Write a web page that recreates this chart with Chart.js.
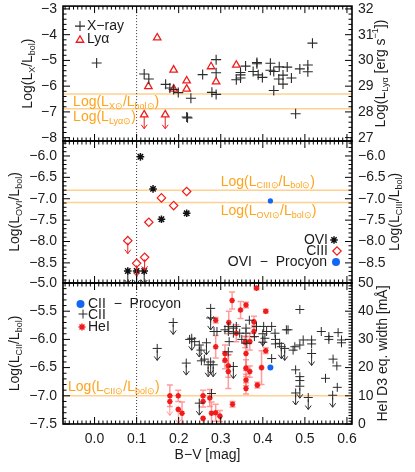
<!DOCTYPE html>
<html>
<head>
<meta charset="utf-8">
<script src="https://cdn.jsdelivr.net/npm/chart.js@4"></script>
<style>
html,body{margin:0;padding:0;background:#fff;}
#wrap{position:relative;width:415px;height:472px;overflow:hidden;}
.p{position:absolute;left:0;width:415px;}
</style>
</head>
<body>
<div id="wrap">
<div class="p" style="top:0px;height:150px"><canvas id="c1"></canvas></div>
<div class="p" style="top:132px;height:160px"><canvas id="c2"></canvas></div>
<div class="p" style="top:274px;height:198px"><canvas id="c3"></canvas></div>
</div>
<script>
// ---- top panel: X-ray (left axis) and Ly alpha (right axis)
var xrayBV = [0.005,0.118,0.129,0.169,0.179,0.188,0.199,0.229,0.219,0.221,0.257,0.279,0.289,0.289,0.289,0.337,0.347,0.347,0.347,0.359,0.377,0.386,0.386,0.389,0.399,0.418,0.418,0.426,0.426,0.439,0.438,0.448,0.448,0.458,0.468,0.478,0.488,0.507,0.507,0.518];
var xrayL  = [-5.10,-5.53,-5.72,-5.93,-6.07,-6.13,-6.25,-6.47,-7.20,-7.23,-5.55,-6.24,-6.32,-4.97,-5.48,-5.75,-5.68,-5.47,-5.56,-5.22,-5.43,-5.08,-5.13,-5.56,-5.66,-5.11,-5.38,-5.43,-6.17,-5.25,-5.72,-5.57,-5.92,-5.26,-5.68,-7.07,-5.33,-5.18,-5.44,-4.33];
var lyaBV = [0.149,0.128,0.188,0.188,0.219,0.219,0.277,0.289,0.337];
var lyaL  = [30.88,28.99,29.63,28.89,29.21,28.89,29.76,29.17,29.82];
var lyaLimBV = [0.118,0.168];
var lyaLimL  = [27.89,27.89];
var xSun = -6.30, lyaSun = 28.12;

// ---- middle panel: OVI (left) and CIII (right)
var oviBV = [0.109,0.139,0.159,0.219];
var oviL  = [-6.02,-6.77,-7.48,-7.34];
var oviLimBV = [0.079,0.100,0.118];
var oviLimL  = [-8.69,-8.69,-8.69];
var ciiiBV = [0.159,0.188,0.219,0.129];
var ciiiL  = [-6.98,-7.16,-6.83,-7.55];
var ciiiLimBV = [0.079,0.100,0.119];
var ciiiLimL  = [-7.98,-8.51,-8.37];
var procOviBV = [0.418], procOviL = [-7.05];
var ciiiSun = -6.80, oviSun = -7.09;

// ---- bottom panel: CII (left) and HeI D3 width (right, mA)
var ciiBV = [0.226,0.238,0.253,0.254,0.261,0.278,0.284,0.291,0.310,0.318,0.318,0.320,0.318,0.330,0.330,0.337,0.345,0.350,0.360,0.360,0.362,0.368,0.385,0.380,0.400,0.402,0.405,0.409,0.421,0.429,0.430,0.430,0.440,0.456,0.460,0.472,0.476,0.488,0.488,0.496,0.516,0.516,0.539,0.557,0.557,0.579,0.587,0.587,0.421,0.478,0.488,0.488,0.567,0.576,0.549,0.577];
var ciiL  = [-6.00,-6.04,-6.19,-6.38,-6.35,-6.96,-5.86,-5.86,-5.83,-5.77,-5.86,-6.04,-6.22,-5.80,-5.89,-5.77,-5.89,-6.00,-5.80,-5.89,-6.07,-5.66,-5.77,-5.95,-6.05,-5.77,-5.98,-5.86,-5.77,-5.89,-6.00,-6.08,-6.07,-5.83,-5.83,-6.19,-6.13,-6.10,-5.47,-6.01,-6.01,-6.08,-5.86,-5.95,-6.00,-5.88,-6.06,-6.01,-6.34,-6.54,-6.66,-6.73,-6.35,-6.47,-6.69,-6.85];
var ciiLimBV = [0.149,0.187,0.218,0.231,0.249,0.266,0.270,0.276,0.282,0.276,0.276,0.330,0.249,0.400,0.444,0.452,0.516,0.488,0.478,0.508,0.566];
var ciiLimL  = [-6.16,-5.70,-6.42,-5.98,-6.10,-6.06,-6.45,-6.40,-6.45,-5.45,-5.62,-6.48,-7.13,-5.90,-6.13,-6.16,-6.25,-6.83,-6.95,-7.03,-6.99];
var heBV  = [0.327,0.385,0.360,0.347,0.407,0.288,0.319,0.379,0.337,0.379,0.369,0.358,0.288,0.310,0.360,0.310,0.318,0.318,0.360,0.369,0.360,0.360,0.387,0.407,0.397,0.179,0.199,0.208,0.258,0.258,0.274,0.278,0.288,0.298,0.328];
var heW   = [43.8,48.2,42.2,40.4,40.0,36.8,36.0,36.2,32.2,32.8,29.2,29.0,27.4,25.0,25.0,22.6,20.6,18.6,19.8,18.6,15.6,12.6,13.8,26.0,20.0,10.0,10.0,3.8,10.0,8.0,9.2,3.8,4.0,2.8,7.0];
var heErr = [3,0.6,1,3,0.6,1,4,2,3,2,3,2,4,3,6,3,4,6,3,2,2,2,1,1,6,3.8,2,4,2,2,3,4,3,2,1];
var heLimBV = [0.179,0.199,0.258];
var heLimW  = [8.0,5.2,2.0];
var procCiiBV = [0.418], procCiiL = [-6.50];
var ciiSun = -7.0;

var FONT = "'Liberation Sans', Arial, Helvetica, sans-serif";
var RED = '#f01c1c', BLUE = '#1466f5', SUN = '#ffa31a', SUNLINE = '#ffd08f', INK = '#1c1c1c';
var ERR = 'rgba(255,90,90,0.6)';

function pts(xs, ys){ return xs.map(function(x, i){ return {x: x, y: ys[i]}; }); }
function fmt(d){ return function(v){ return Number(v).toFixed(d).replace('-', '\u2212'); }; }

function parseRich(s){
  var out = [], re = /([_^])\{([^}]*)\}/g, last = 0, m;
  while ((m = re.exec(s))) {
    if (m.index > last) out.push([s.slice(last, m.index), 0]);
    out.push([m[2], m[1] === '_' ? 1 : 2]);
    last = re.lastIndex;
  }
  if (last < s.length) out.push([s.slice(last), 0]);
  return out;
}

function rich(ctx, s, x, y, o){
  o = o || {};
  var size = o.size || 14, small = Math.round(size * 0.64), segs = parseRich(s), w = 0;
  ctx.save();
  ctx.translate(x, y);
  if (o.rot) ctx.rotate(o.rot);
  ctx.fillStyle = o.color || INK;
  ctx.textBaseline = 'middle';
  ctx.textAlign = 'left';
  segs.forEach(function(g){ ctx.font = (g[1] ? small : size) + 'px ' + FONT; w += ctx.measureText(g[0]).width; });
  var cx = o.align === 'center' ? -w / 2 : (o.align === 'right' ? -w : 0);
  segs.forEach(function(g){
    ctx.font = (g[1] ? small : size) + 'px ' + FONT;
    var dy = g[1] === 1 ? size * 0.3 : (g[1] === 2 ? -size * 0.36 : 0);
    ctx.fillText(g[0], cx, dy);
    cx += ctx.measureText(g[0]).width;
  });
  ctx.restore();
}

function marker(ctx, style, x, y, r, stroke, fill, lw){
  ctx.save();
  ctx.strokeStyle = stroke; ctx.fillStyle = fill; ctx.lineWidth = lw;
  Chart.helpers.drawPoint(ctx, {pointStyle: style, radius: r, borderWidth: lw, rotation: 0}, x, y);
  ctx.restore();
}

function arrow(ctx, x, y, len, color){
  ctx.save();
  ctx.strokeStyle = color; ctx.lineWidth = 1;
  ctx.beginPath();
  ctx.moveTo(x, y); ctx.lineTo(x, y + len);
  ctx.moveTo(x - 3, y + len - 4); ctx.lineTo(x, y + len); ctx.lineTo(x + 3, y + len - 4);
  ctx.stroke();
  ctx.restore();
}

function axisTicks(ctx, scale, a, major, minor, side){
  var k0 = Math.ceil(scale.min / minor - 1e-6), k1 = Math.floor(scale.max / minor + 1e-6);
  ctx.beginPath();
  for (var k = k0; k <= k1; k++) {
    var v = k * minor, q = v / major, len = Math.abs(q - Math.round(q)) < 1e-6 ? 7 : 3.5;
    var p = scale.getPixelForValue(v);
    if (side === 'x') {
      ctx.moveTo(p, a.top); ctx.lineTo(p, a.top + len);
      ctx.moveTo(p, a.bottom); ctx.lineTo(p, a.bottom - len);
    } else if (side === 'left') {
      ctx.moveTo(a.left, p); ctx.lineTo(a.left + len, p);
    } else {
      ctx.moveTo(a.right, p); ctx.lineTo(a.right - len, p);
    }
  }
  ctx.stroke();
}

function decor(cfg){
  return {
    id: 'decor',
    beforeDatasetsDraw: function(chart){
      var ctx = chart.ctx, a = chart.chartArea, sx = chart.scales.x;
      ctx.save();
      ctx.beginPath(); ctx.rect(a.left, a.top, a.right - a.left, a.bottom - a.top); ctx.clip();
      // solar reference lines
      ctx.strokeStyle = SUNLINE; ctx.lineWidth = 1.5;
      cfg.refs.forEach(function(r){
        var py = chart.scales[r.axis].getPixelForValue(r.v);
        ctx.beginPath(); ctx.moveTo(a.left, py); ctx.lineTo(a.right, py); ctx.stroke();
      });
      // dotted line at B-V = 0.1
      var px = sx.getPixelForValue(0.1);
      ctx.setLineDash([1, 2]); ctx.strokeStyle = '#333'; ctx.lineWidth = 1;
      ctx.beginPath(); ctx.moveTo(px, a.top); ctx.lineTo(px, a.bottom); ctx.stroke();
      ctx.setLineDash([]);
      // error bars
      chart.data.datasets.forEach(function(ds, i){
        if (!ds.errs) return;
        var ys = chart.scales[ds.yAxisID], meta = chart.getDatasetMeta(i);
        ctx.strokeStyle = ERR; ctx.lineWidth = 1.5;
        meta.data.forEach(function(p, j){
          var v = ds.data[j].y, e = ds.errs[j];
          var t = ys.getPixelForValue(v + e), b = ys.getPixelForValue(v - e);
          ctx.beginPath();
          ctx.moveTo(p.x, t); ctx.lineTo(p.x, b);
          ctx.moveTo(p.x - 3, t); ctx.lineTo(p.x + 3, t);
          ctx.moveTo(p.x - 3, b); ctx.lineTo(p.x + 3, b);
          ctx.stroke();
        });
      });
      ctx.restore();
    },
    afterDatasetsDraw: function(chart){
      var ctx = chart.ctx, a = chart.chartArea, sc = chart.scales;
      ctx.save();
      ctx.beginPath(); ctx.rect(a.left, a.top, a.right - a.left, a.bottom - a.top); ctx.clip();
      chart.data.datasets.forEach(function(ds, i){
        if (!ds.arrow) return;
        chart.getDatasetMeta(i).data.forEach(function(p){ arrow(ctx, p.x, p.y + 2, ds.arrow, ds.arrowColor); });
      });
      // solar labels
      cfg.refs.forEach(function(r){
        var py = sc[r.axis].getPixelForValue(r.v);
        rich(ctx, r.label, sc.x.getPixelForValue(r.bv), py + r.dy, {color: SUN, size: 14});
      });
      ctx.restore();
      // frame and inward ticks
      ctx.save();
      ctx.strokeStyle = '#000'; ctx.lineWidth = 1;
      axisTicks(ctx, sc.x, a, 0.1, 0.01, 'x');
      axisTicks(ctx, sc.y, a, cfg.yt[0], cfg.yt[1], 'left');
      axisTicks(ctx, sc.y2, a, cfg.y2t[0], cfg.y2t[1], 'right');
      ctx.lineWidth = 1.6;
      ctx.strokeRect(a.left, a.top, a.right - a.left, a.bottom - a.top);
      ctx.restore();
      // axis titles
      var cy = (a.top + a.bottom) / 2;
      rich(ctx, cfg.leftTitle[0], cfg.leftTitle[1], cy, {rot: -Math.PI / 2, align: 'center'});
      rich(ctx, cfg.rightTitle[0], cfg.rightTitle[1], cy, {rot: -Math.PI / 2, align: 'center'});
      cfg.legend(ctx, a);
    }
  };
}

function yScale(pos, min, max, step, dec){
  return {
    type: 'linear', position: pos, min: min, max: max,
    grid: {display: false, drawTicks: false}, border: {display: false},
    ticks: {stepSize: step, includeBounds: false, autoSkip: false, callback: fmt(dec), color: INK, padding: 6, font: {family: FONT, size: 14}},
    afterFit: function(s){ s.width = 63; s.paddingTop = 0; s.paddingBottom = 0; }
  };
}

function panel(id, datasets, cfg){
  return new Chart(document.getElementById(id), {
    type: 'scatter',
    data: {datasets: datasets},
    options: {
      responsive: true, maintainAspectRatio: false, animation: false, events: [],
      devicePixelRatio: 1,
      layout: {padding: cfg.pad},
      plugins: {legend: {display: false}, tooltip: {enabled: false}},
      scales: {
        x: {
          type: 'linear', min: -0.075, max: 0.612, display: cfg.showX,
          grid: {display: false, drawTicks: false}, border: {display: false},
          ticks: {stepSize: 0.1, includeBounds: false, autoSkip: false, callback: fmt(1), color: INK, padding: 7, maxRotation: 0, font: {family: FONT, size: 14}},
          title: {display: true, text: 'B\u2212V [mag]', color: INK, font: {family: FONT, size: 14}, padding: {top: 0, bottom: 8}},
          afterFit: function(s){
            if (s.options.display) s.height = 48; else s.height = 0;
            s.paddingLeft = 0; s.paddingRight = 0;
          }
        },
        y: yScale('left', cfg.y[0], cfg.y[1], cfg.y[2], cfg.y[3]),
        y2: yScale('right', cfg.y2[0], cfg.y2[1], cfg.y2[2], cfg.y2[3])
      }
    },
    plugins: [decor(cfg)]
  });
}

// top panel
panel('c1', [
  {data: pts(xrayBV, xrayL), yAxisID: 'y', pointStyle: 'cross', pointRadius: 5, pointBorderWidth: 1.1, pointBorderColor: '#2a2a2a'},
  {data: pts(lyaBV, lyaL), yAxisID: 'y2', pointStyle: 'triangle', pointRadius: 4.3, pointBorderWidth: 1.3, pointBorderColor: RED, pointBackgroundColor: 'rgba(255,255,255,0)'},
  {data: pts(lyaLimBV, lyaLimL), yAxisID: 'y2', pointStyle: 'triangle', pointRadius: 4.3, pointBorderWidth: 1.3, pointBorderColor: RED, pointBackgroundColor: 'rgba(255,255,255,0)', arrow: 12, arrowColor: RED}
], {
  pad: {left: 0, right: 0, top: 5, bottom: 9}, showX: false,
  y: [-8.13, -2.89, 1, 0], y2: [26.87, 32.11, 1, 0], yt: [1, 0.2], y2t: [1, 0.2],
  refs: [
    {axis: 'y', v: xSun, label: 'Log(L_{X\u2299}/L_{bol\u2299})', bv: -0.051, dy: 8},
    {axis: 'y2', v: lyaSun, label: 'Log(L_{Ly\u03b1\u2299})', bv: -0.051, dy: 8.5}
  ],
  leftTitle: ['Log(L_{X}/L_{bol})', 28], rightTitle: ['Log(L_{Ly\u03b1} [erg s^{\u22121}])', 381],
  legend: function(ctx, a){
    marker(ctx, 'cross', a.left + 17, a.top + 20, 5, '#2a2a2a', 'transparent', 1.1);
    rich(ctx, 'X\u2212ray', a.left + 24, a.top + 20);
    marker(ctx, 'triangle', a.left + 17, a.top + 34, 4.3, RED, 'rgba(255,255,255,0)', 1.3);
    rich(ctx, 'Ly\u03b1', a.left + 24, a.top + 33);
  }
});

// middle panel
panel('c2', [
  {data: pts(ciiiBV, ciiiL), yAxisID: 'y2', pointStyle: 'rectRot', pointRadius: 4.2, pointBorderWidth: 1.2, pointBorderColor: RED, pointBackgroundColor: '#fff'},
  {data: pts(ciiiLimBV, ciiiLimL), yAxisID: 'y2', pointStyle: 'rectRot', pointRadius: 4.2, pointBorderWidth: 1.2, pointBorderColor: RED, pointBackgroundColor: '#fff', arrow: 11, arrowColor: RED},
  {data: pts(oviBV, oviL), yAxisID: 'y', pointStyle: 'star', pointRadius: 3.8, pointBorderWidth: 1.5, pointBorderColor: '#111'},
  {data: pts(oviLimBV, oviLimL), yAxisID: 'y', pointStyle: 'star', pointRadius: 3.8, pointBorderWidth: 1.5, pointBorderColor: '#111', arrow: 11, arrowColor: '#222'},
  {data: pts(procOviBV, procOviL), yAxisID: 'y', pointStyle: 'circle', pointRadius: 2.6, pointBorderWidth: 0, pointBackgroundColor: BLUE}
], {
  pad: {left: 0, right: 0, top: 9, bottom: 9}, showX: false,
  y: [-8.97, -5.65, 0.5, 1], y2: [-8.97, -5.65, 0.5, 1], yt: [0.5, 0.1], y2t: [0.5, 0.1],
  refs: [
    {axis: 'y2', v: ciiiSun, label: 'Log(L_{CIII\u2299}/L_{bol\u2299})', bv: 0.30, dy: -8.5},
    {axis: 'y', v: oviSun, label: 'Log(L_{OVI\u2299}/L_{bol\u2299})', bv: 0.30, dy: 9}
  ],
  leftTitle: ['Log(L_{OVI}/L_{bol})', 15], rightTitle: ['Log(L_{CIII}/L_{bol})', 395],
  legend: function(ctx, a){
    rich(ctx, 'OVI', a.right - 24, a.bottom - 43, {align: 'right'});
    marker(ctx, 'star', a.right - 18, a.bottom - 43, 3.8, '#111', 'transparent', 1.5);
    rich(ctx, 'CIII', a.right - 24, a.bottom - 32, {align: 'right'});
    marker(ctx, 'rectRot', a.right - 15, a.bottom - 32, 4.2, RED, '#fff', 1.2);
    rich(ctx, 'OVI  \u2212  Procyon', a.right - 25, a.bottom - 21, {align: 'right'});
    marker(ctx, 'circle', a.right - 16, a.bottom - 21, 4, BLUE, BLUE, 0);
  }
});

// bottom panel
panel('c3', [
  {data: pts(ciiBV, ciiL), yAxisID: 'y', pointStyle: 'cross', pointRadius: 4.5, pointBorderWidth: 1, pointBorderColor: '#2a2a2a'},
  {data: pts(ciiLimBV, ciiLimL), yAxisID: 'y', pointStyle: 'cross', pointRadius: 4.5, pointBorderWidth: 1, pointBorderColor: '#2a2a2a', arrow: 10, arrowColor: '#2a2a2a'},
  {data: pts(heBV, heW), yAxisID: 'y2', pointStyle: 'star', pointRadius: 2.8, pointBorderWidth: 1.6, pointBorderColor: RED, errs: heErr},
  {data: pts(heLimBV, heLimW), yAxisID: 'y2', pointStyle: 'star', pointRadius: 2.8, pointBorderWidth: 1.6, pointBorderColor: RED, arrow: 12, arrowColor: ERR},
  {data: pts(procCiiBV, procCiiL), yAxisID: 'y', pointStyle: 'circle', pointRadius: 3, pointBorderWidth: 0, pointBackgroundColor: BLUE}
], {
  pad: {left: 0, right: 0, top: 9, bottom: 0}, showX: true,
  y: [-7.5, -5.0, 0.5, 1], y2: [0, 50, 10, 0], yt: [0.5, 0.1], y2t: [10, 1],
  refs: [
    {axis: 'y', v: ciiSun, label: 'Log(L_{CII\u2299}/L_{bol\u2299})', bv: -0.063, dy: -8.5}
  ],
  leftTitle: ['Log(L_{CII}/L_{bol})', 15], rightTitle: ['HeI D3 eq. width [m\u00c5]', 383],
  legend: function(ctx, a){
    marker(ctx, 'circle', a.left + 17.5, a.top + 21, 4, BLUE, BLUE, 0);
    rich(ctx, 'CII  \u2212  Procyon', a.left + 25, a.top + 21);
    marker(ctx, 'cross', a.left + 20, a.top + 31, 4.5, '#2a2a2a', 'transparent', 1);
    rich(ctx, 'CII', a.left + 25, a.top + 32);
    marker(ctx, 'star', a.left + 19, a.top + 44, 3.5, RED, 'transparent', 1.5);
    rich(ctx, 'HeI', a.left + 25, a.top + 44);
  }
});
</script>
</body>
</html>
